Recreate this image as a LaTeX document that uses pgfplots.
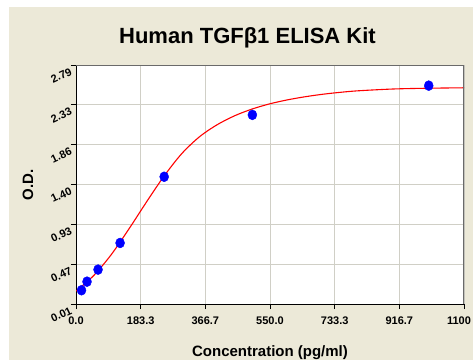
\documentclass[border=0pt]{standalone}
\usepackage{fontspec}
\setmainfont{Liberation Sans}
\usepackage{pgfplots}
\pgfplotsset{compat=1.18}
\definecolor{beige}{HTML}{ECE9D8}
\definecolor{gridgray}{HTML}{D0CFC6}
\definecolor{framegray}{HTML}{6A6A6A}
\begin{document}
\begin{tikzpicture}[x=1pt,y=1pt]
\useasboundingbox (0,0) rectangle (473,360);
\fill[white] (0,0) rectangle (473,360);
\fill[beige] (9,0) rectangle (473,353);
\begin{axis}[
  at={(76pt,56pt)}, anchor=south west,
  scale only axis, width=388pt, height=239pt,
  xmin=0, xmax=1100, ymin=0.01, ymax=2.79,
  axis x line*=bottom, axis y line*=left,
  axis line style={black, line width=0.9pt},
  xtick={0,183.333,366.667,550,733.333,916.667,1100},
  xticklabels={0.0,183.3,366.7,550.0,733.3,916.7,\hspace*{-10pt}1100},
  ytick={0.01,0.47333,0.93667,1.4,1.86333,2.32667,2.79},
  yticklabels={0.01,0.47,0.93,1.40,1.86,2.33,2.79},
  minor x tick num=3, minor y tick num=4,
  tick align=outside,
  major tick length=5pt, minor tick length=3pt,
  tick style={black, line width=0.8pt},
  xmajorgrids, ymajorgrids,
  grid style={color=gridgray, line width=0.8pt},
  axis background/.style={fill=white},
  xticklabel style={font=\bfseries\fontsize{11}{12}\selectfont, yshift=-4pt},
  yticklabel style={font=\bfseries\fontsize{11}{12}\selectfont, rotate=25, anchor=north east, xshift=1pt, yshift=2pt},
  clip=true,
]
\addplot[red, line width=1.1pt, smooth] coordinates {
(0,0.16) (50,0.34) (100,0.585) (150,0.8825) (200,1.1975) (250,1.50)
(300,1.76) (350,1.955) (400,2.095) (450,2.20) (500,2.279) (550,2.339)
(600,2.385) (650,2.421) (700,2.450) (750,2.4725) (800,2.49)
(900,2.511) (1000,2.52) (1100,2.525)
};
\addplot[only marks, mark=*, mark size=5pt, mark options={fill=blue, draw=blue, xscale=0.9}] coordinates {
(15.6,0.17) (31.25,0.27) (62.5,0.41) (125,0.72) (250,1.49) (500,2.21) (1000,2.55)
};
\draw[framegray, line width=1.4pt] (rel axis cs:0,1) -- (rel axis cs:1,1) -- (rel axis cs:1,0);
\end{axis}
\node[anchor=base, font=\bfseries\fontsize{22}{26}\selectfont] at (247.5,316.7) {Human TGFβ1 ELISA Kit};
\node[anchor=base, font=\bfseries\fontsize{15}{18}\selectfont] at (270,4) {Concentration (pg/ml)};
\node[anchor=base, rotate=90, font=\bfseries\fontsize{15}{18}\selectfont] at (33,175) {O.D.};
\end{tikzpicture}
\end{document}
